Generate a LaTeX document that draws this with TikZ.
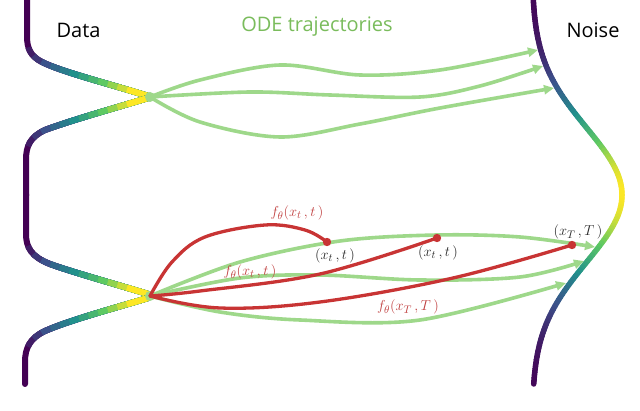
\documentclass[tikz,border=0pt]{standalone}
\usepackage{fontspec}
\newfontfamily\labelfont{Open Sans}
\usetikzlibrary{arrows.meta}
\definecolor{vir0}{HTML}{440154}
\definecolor{vir1}{HTML}{3B528B}
\definecolor{vir2}{HTML}{21918C}
\definecolor{vir3}{HTML}{5EC962}
\definecolor{vir4}{HTML}{FDE725}
\definecolor{trajgreen}{RGB}{158,216,138}
\definecolor{titlegreen}{RGB}{122,188,92}
\definecolor{fred}{RGB}{200,52,52}
\definecolor{lblred}{RGB}{192,62,62}
\definecolor{lblgray}{RGB}{40,40,40}
\newcommand\setvir[1]{%
  \pgfmathsetmacro\vs{4*#1}%
  \pgfmathtruncatemacro\vk{min(3,floor(\vs))}%
  \pgfmathtruncatemacro\vkn{\vk+1}%
  \pgfmathtruncatemacro\vf{100*(\vs-\vk)}%
  \colorlet{cc}{vir\vkn!\vf!vir\vk}}
\newcommand\gradbranch[1]{%
  \draw[datacurve, vir0] #1;
  \foreach \j in {1,...,12}{%
    \pgfmathsetmacro\vv{\j/12}%
    \setvir{\vv}%
    \pgfmathsetmacro\LL{142-10*\j}%
    \draw[datacurve, cc, line cap=butt, dash pattern=on \LL pt off 3000pt] #1;
  }}
\tikzset{
  datacurve/.style={line width=6pt, line cap=round, line join=round},
  noisecurve/.style={line width=5.5pt, line cap=round},
  traj/.style={trajgreen, line width=3.6pt, -{Triangle[length=10pt,width=9pt]}},
  redpath/.style={fred, line width=3.3pt, line cap=round},
  reddot/.style={fill=fred},
  mlabel/.style={font=\fontsize{15.5}{18}\selectfont, inner sep=1pt},
  title/.style={font=\labelfont\fontsize{20}{24}\selectfont, anchor=base, inner sep=0pt},
}
\begin{document}
\begin{tikzpicture}[x=1pt,y=-1pt]
\useasboundingbox (0,0) rectangle (640,411);
\fill[white] (0,0) rectangle (640,411);
% named points
\coordinate (j1) at (150,97);
\coordinate (j2) at (150,296);
\coordinate (t1) at (538,50);
\coordinate (t2) at (543,66);
\coordinate (t3) at (554,88);
\coordinate (b1) at (595,247);
\coordinate (b2) at (584,261);
\coordinate (b3) at (566,283);
\coordinate (d1) at (327,242);
\coordinate (d2) at (437,238);
\coordinate (d3) at (572,245);
% Data curve
\gradbranch{(148,96) .. controls (110,84) and (62,72) .. (42,62) .. controls (30,56) and (27,48) .. (27,36) -- (27,-3)}
\gradbranch{(148,98) .. controls (115,108) and (72,120) .. (45,130) .. controls (30,137) and (26,146) .. (26,160) -- (26,196)}
\gradbranch{(148,294) .. controls (115,284) and (72,272) .. (50,264) .. controls (32,257) and (26,248) .. (26,234) -- (26,194)}
\gradbranch{(148,298) .. controls (115,308) and (70,320) .. (45,331) .. controls (30,338) and (25,348) .. (25,362) -- (25,384)}
% ODE trajectories, top group
\draw[traj] plot[smooth, tension=0.55] coordinates {(j1) (200,80) (280,65) (360,75) (440,70) (t1)};
\draw[traj] plot[smooth, tension=0.55] coordinates {(j1) (250,92) (330,95) (420,97) (480,86) (t2)};
\draw[traj] plot[smooth, tension=0.55] coordinates {(j1) (200,122) (280,137) (360,124) (440,108) (t3)};
% bottom group
\draw[traj] plot[smooth, tension=0.55] coordinates {(j2) (240,262) (340,241) (437,235) (520,237) (b1)};
\draw[traj] plot[smooth, tension=0.55] coordinates {(j2) (240,278) (320,275) (420,280) (520,277) (b2)};
\draw[traj] plot[smooth, tension=0.55] coordinates {(j2) (220,312) (300,320) (420,320) (b3)};
\fill[trajgreen] (j1) circle (5pt);
\fill[trajgreen] (j2) circle (5pt);
% red predictions
\draw[redpath] plot[smooth, tension=0.6] coordinates {(j2) (172,262) (205,237) (265,225) (305,230) (d1)};
\draw[redpath] plot[smooth, tension=0.6] coordinates {(j2) (200,291) (320,274) (d2)};
\draw[redpath] plot[smooth, tension=0.6] coordinates {(j2) (220,308) (320,302) (453,278) (d3)};
\fill[reddot] (d1) circle (4.2pt);
\fill[reddot] (d2) circle (4.2pt);
\fill[reddot] (d3) circle (4.2pt);
% Noise curve
\foreach \i in {0,...,127}{%
  \pgfmathsetmacro\ya{3*\i}%
  \pgfmathsetmacro\yb{3*\i+3}%
  \pgfmathsetmacro\xa{532+90*exp(-((\ya-195)/95)^2)}%
  \pgfmathsetmacro\xb{532+90*exp(-((\yb-195)/95)^2)}%
  \pgfmathsetmacro\vv{exp(-((\ya+1.5-195)/95)^2)}%
  \setvir{\vv}%
  \draw[noisecurve, cc] (\xa,\ya) -- (\xb,\yb);
}
% titles
\node[title] (data) at (78.5,38) {Data};
\node[title, titlegreen] (ode) at (317,32) {ODE trajectories};
\node[title] (noise) at (593,38) {Noise};
% labels
\node[mlabel, lblred] (f1) at (297,213) {$f_\theta(x_t\,,t\,)$};
\node[mlabel, lblgray] (l1) at (335,256) {$(x_t\,,t\,)$};
\node[mlabel, lblred] (f2) at (250,272) {$f_\theta(x_t\,,t\,)$};
\node[mlabel, lblgray] (l2) at (438,253) {$(x_t\,,t\,)$};
\node[mlabel, lblgray] (l3) at (578,232) {$(x_T\,,T\,)$};
\node[mlabel, lblred] (f3) at (408,307) {$f_\theta(x_T\,,T\,)$};
\end{tikzpicture}
\end{document}
